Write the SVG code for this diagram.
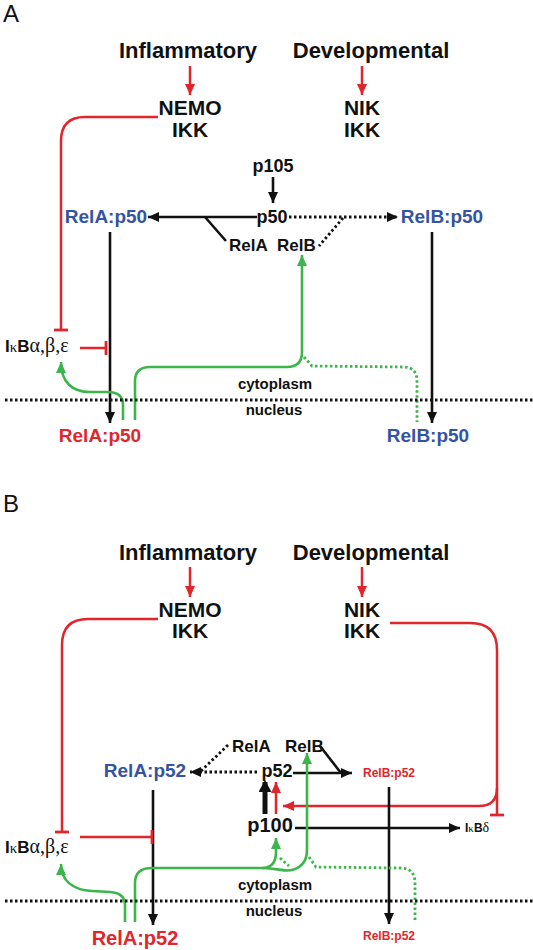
<svg xmlns="http://www.w3.org/2000/svg" width="533" height="950" viewBox="0 0 533 950">
<style>
text{font-family:"Liberation Sans",Arial,sans-serif;font-weight:bold;fill:#111}
.c{text-anchor:middle}
.blue{fill:#3553a3}
.red{fill:#e0262b}
.g{font-family:"Liberation Serif","Times New Roman",serif;font-weight:normal}
.panel{font-weight:normal;font-size:24px}
.ln{fill:none;stroke:#111;stroke-width:2.6}
.rl{fill:none;stroke:#e0262b;stroke-width:2.5}
.gl{fill:none;stroke:#3cb54a;stroke-width:2.6}
.dot{fill:none;stroke:#111;stroke-width:2.8;stroke-dasharray:2.5 2.5}
.gdot{fill:none;stroke:#3cb54a;stroke-width:2.8;stroke-dasharray:2.5 2.5}
</style>
<defs>
<marker id="ab" markerUnits="userSpaceOnUse" markerWidth="11" markerHeight="10" refX="11" refY="5" orient="auto"><path d="M0,0 L11,5 L0,10 z" fill="#111"/></marker>
<marker id="ar" markerUnits="userSpaceOnUse" markerWidth="11" markerHeight="10" refX="11" refY="5" orient="auto"><path d="M0,0 L11,5 L0,10 z" fill="#e0262b"/></marker>
<marker id="ag" markerUnits="userSpaceOnUse" markerWidth="11" markerHeight="10" refX="11" refY="5" orient="auto"><path d="M0,0 L11,5 L0,10 z" fill="#3cb54a"/></marker>
<marker id="abig" markerUnits="userSpaceOnUse" markerWidth="12" markerHeight="13" refX="10" refY="6.5" orient="auto"><path d="M0,0 L12,6.5 L0,13 z" fill="#111"/></marker>
<marker id="tr" markerUnits="userSpaceOnUse" markerWidth="4" markerHeight="14" refX="2" refY="7" orient="auto"><path d="M2,0 L2,14" stroke="#e0262b" stroke-width="2.8"/></marker>
</defs>

<g id="connectors">
<!-- Panel A -->
<path class="rl" d="M190,66 L190,95" marker-end="url(#ar)"/>
<path class="rl" d="M362,66 L362,95" marker-end="url(#ar)"/>
<path class="rl" d="M158,117 L85,117 Q61,117 61,141 L61,330" marker-end="url(#tr)"/>
<path class="ln" d="M273,177 L273,203" marker-end="url(#ab)"/>
<path class="ln" d="M257,217 L148,217" marker-end="url(#ab)"/>
<path class="ln" d="M205,217 L226,241"/>
<path class="dot" d="M289,217 L398,217" marker-end="url(#ab)"/>
<path class="dot" d="M343,218 L319,246"/>
<path class="ln" d="M110,232 L110,423" marker-end="url(#ab)"/>
<path class="ln" d="M432,232 L432,423" marker-end="url(#ab)"/>
<path class="rl" d="M80,348 L106,348" marker-end="url(#tr)"/>
<path class="gl" d="M123,420 L123,405 Q123,392 108,392 L90,392 C72,392 61,382 61,362" marker-end="url(#ag)"/>
<path class="gl" d="M135,420 L135,381 Q135,367 150,367 L287,367 Q302,367 302,352 L302,255" marker-end="url(#ag)"/>
<path class="gdot" d="M304,357 L312,366 L403,367 Q417,367 417,381 L417,422"/>
<path class="dot" d="M5,400 L533,400"/>

<!-- Panel B -->
<path class="rl" d="M190,567 L190,597" marker-end="url(#ar)"/>
<path class="rl" d="M362,567 L362,597" marker-end="url(#ar)"/>
<path class="rl" d="M158,619 L88,619 Q62,619 62,645 L62,832" marker-end="url(#tr)"/>
<path class="rl" d="M390,623 L470,623 Q497,623 497,650 L497,815" marker-end="url(#tr)"/>
<path class="rl" d="M497,788 Q497,806 479,806 L283,806" marker-end="url(#ar)"/>
<path class="dot" d="M228,745 L201,771"/>
<path class="dot" d="M257,772 L190,772" marker-end="url(#ab)"/>
<path class="ln" d="M293,773 L352,773" marker-end="url(#ab)"/>
<path class="ln" d="M320,746 L341,773"/>
<path class="ln" d="M153,790 L153,925" marker-end="url(#ab)"/>
<path class="ln" d="M389,787 L389,924" marker-end="url(#ab)"/>
<path fill="none" stroke="#111" stroke-width="5" d="M265,814 L265,782" marker-end="url(#abig)"/>
<path class="rl" d="M276,814 L276,782" marker-end="url(#ar)"/>
<path class="ln" d="M295,828 L460,828" marker-end="url(#ab)"/>
<path class="rl" d="M80,837 L152,837" marker-end="url(#tr)"/>
<path class="gl" d="M125,922 L125,905 Q125,893 110,892 L92,891 C72,890 61,880 61,864" marker-end="url(#ag)"/>
<path class="gl" d="M135,922 L135,883 Q135,868 152,868 L262,868 Q276,868 276,852 L276,838" marker-end="url(#ag)"/>
<path class="gl" d="M262,868 C278,868 284,872 292,870 Q307,866 307,850 L307,753" marker-end="url(#ag)"/>
<path class="gdot" d="M280,858 L289,866"/>
<path class="gdot" d="M309,857 L316,867 L400,868 Q415,868 415,883 L415,920"/>
<path class="dot" d="M5,901 L533,901"/>
</g>

<!-- Panel A nodes -->
<g id="labelA"><text class="panel" x="3" y="22">A</text></g>
<g id="A-inflammatory"><text class="c" x="188" y="58" font-size="22">Inflammatory</text></g>
<g id="A-developmental"><text class="c" x="371" y="58" font-size="22">Developmental</text></g>
<g id="A-nemo"><text class="c" x="190" y="115" font-size="21">NEMO</text><text class="c" x="190" y="137" font-size="21">IKK</text></g>
<g id="A-nik"><text class="c" x="362" y="115" font-size="21">NIK</text><text class="c" x="362" y="137" font-size="21">IKK</text></g>
<g id="A-p105"><text class="c" x="273" y="172" font-size="18">p105</text></g>
<g id="A-p50"><text class="c" x="272" y="223" font-size="18">p50</text></g>
<g id="A-relap50-cyt"><text class="c blue" x="106" y="223" font-size="19">RelA:p50</text></g>
<g id="A-relbp50-cyt"><text class="c blue" x="442" y="223" font-size="19">RelB:p50</text></g>
<g id="A-rela"><text x="229" y="251" font-size="17">RelA</text></g>
<g id="A-relb"><text x="277" y="251" font-size="17">RelB</text></g>
<g id="A-ikb"><text x="5" y="352" font-size="17">I<tspan class="g" font-size="15">κ</tspan>B<tspan class="g" font-size="20">α,β,ε</tspan></text></g>
<g id="A-compartments"><text class="c" x="275" y="389" font-size="15">cytoplasm</text><text class="c" x="274" y="415" font-size="15">nucleus</text></g>
<g id="A-relap50-nuc"><text class="c red" x="100" y="442" font-size="19">RelA:p50</text></g>
<g id="A-relbp50-nuc"><text class="c blue" x="428" y="442" font-size="19">RelB:p50</text></g>

<!-- Panel B nodes -->
<g id="labelB"><text class="panel" x="3" y="512">B</text></g>
<g id="B-inflammatory"><text class="c" x="188" y="560" font-size="22">Inflammatory</text></g>
<g id="B-developmental"><text class="c" x="371" y="560" font-size="22">Developmental</text></g>
<g id="B-nemo"><text class="c" x="190" y="617" font-size="21">NEMO</text><text class="c" x="190" y="638" font-size="21">IKK</text></g>
<g id="B-nik"><text class="c" x="362" y="617" font-size="21">NIK</text><text class="c" x="362" y="638" font-size="21">IKK</text></g>
<g id="B-rela"><text x="232" y="752" font-size="17">RelA</text></g>
<g id="B-relb"><text x="285" y="752" font-size="17">RelB</text></g>
<g id="B-relap52-cyt"><text class="c blue" x="145" y="777" font-size="19">RelA:p52</text></g>
<g id="B-p52"><text class="c" x="277" y="777" font-size="18">p52</text></g>
<g id="B-relbp52-cyt"><text class="c red" x="389" y="777" font-size="12">RelB:p52</text></g>
<g id="B-p100"><text class="c" x="270" y="832" font-size="20">p100</text></g>
<g id="B-ikbd"><text x="465" y="832" font-size="12">I<tspan class="g" font-size="11">κ</tspan>B<tspan class="g" font-size="14">δ</tspan></text></g>
<g id="B-ikb"><text x="5" y="853" font-size="17">I<tspan class="g" font-size="15">κ</tspan>B<tspan class="g" font-size="20">α,β,ε</tspan></text></g>
<g id="B-compartments"><text class="c" x="275" y="890" font-size="15">cytoplasm</text><text class="c" x="274" y="916" font-size="15">nucleus</text></g>
<g id="B-relap52-nuc"><text class="c red" x="135" y="945" font-size="20">RelA:p52</text></g>
<g id="B-relbp52-nuc"><text class="c red" x="389" y="940" font-size="12">RelB:p52</text></g>
</svg>
